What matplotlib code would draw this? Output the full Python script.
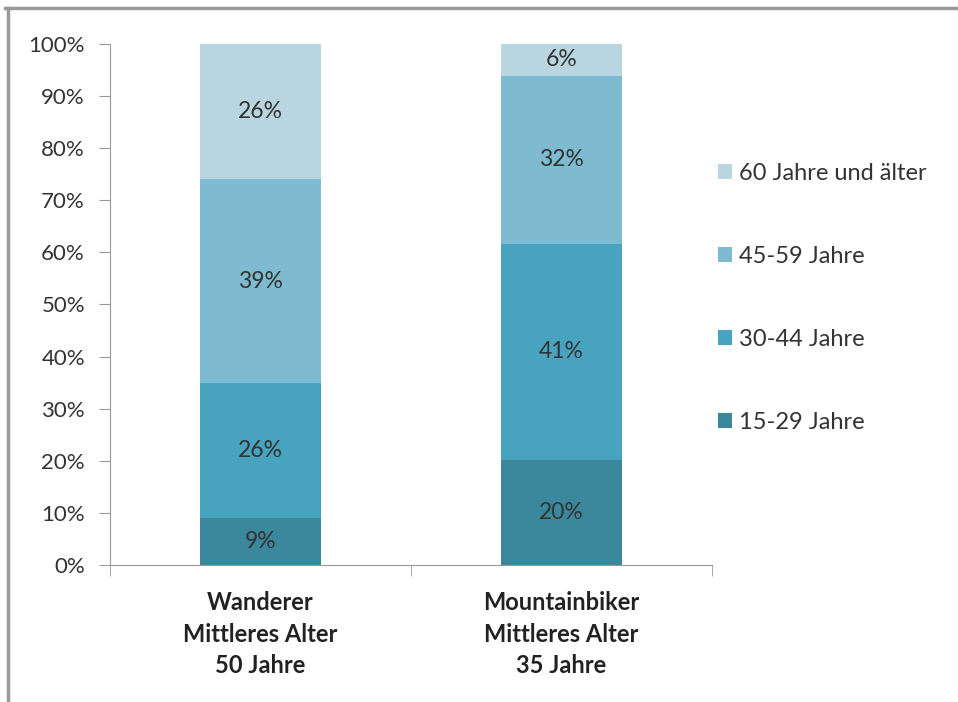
import numpy as np
import matplotlib.pyplot as plt
from matplotlib.lines import Line2D

plt.rcParams['font.family'] = ['Lato', 'DejaVu Sans']

groups = ["Wanderer\nMittleres Alter\n50 Jahre", "Mountainbiker\nMittleres Alter\n35 Jahre"]
series = ["15-29 Jahre", "30-44 Jahre", "45-59 Jahre", "60 Jahre und älter"]
wanderer = [9, 26, 39, 26]
mountainbiker = [20, 41, 32, 6]
colors = ['#3B879B', '#47A3BE', '#7EBAD0', '#B8D5E0']

raw = np.array([wanderer, mountainbiker], dtype=float)
# 100% stacked: normalise each column
share = raw / raw.sum(axis=1, keepdims=True) * 100

fig = plt.figure(figsize=(9.58, 7.02), dpi=100)
ax = fig.add_axes([0.1148, 0.1952, 0.6282, 0.7421])

x = np.arange(len(groups))
bottom = np.zeros(len(groups))
for i, name in enumerate(series):
    ax.bar(x, share[:, i], 0.4, bottom=bottom, color=colors[i], label=name)
    for j in range(len(groups)):
        ax.text(x[j], bottom[j] + share[j, i] / 2, "%d%%" % raw[j, i],
                ha='center', va='center', fontsize=16.5, color='#333333')
    bottom += share[:, i]

ax.set_xlim(-0.5, 1.5)
ax.set_ylim(0, 100)
ax.set_yticks(np.arange(0, 101, 10))
ax.set_yticklabels(["%d%%" % v for v in range(0, 101, 10)], fontsize=16, color='#333333')
ax.set_xticks(x)
ax.set_xticklabels(groups, fontsize=17, fontweight='bold', color='#222222', linespacing=1.45)
ax.tick_params(axis='x', length=0, pad=19)
ax.set_xticks([-0.5, 0.5, 1.5], minor=True)
ax.tick_params(axis='x', which='minor', length=8, color='#999999')
ax.tick_params(axis='y', length=8, color='#999999', pad=10)

for s in ['top', 'right']:
    ax.spines[s].set_visible(False)
for s in ['left', 'bottom']:
    ax.spines[s].set_color('#999999')

h, l = ax.get_legend_handles_labels()
ax.legend(h[::-1], l[::-1], loc='upper left', bbox_to_anchor=(0.975, 0.812),
          frameon=False, fontsize=17, labelspacing=2.62, handlelength=0.6,
          handleheight=0.6, handletextpad=0.3, labelcolor='#333333')

# outer chart border (top and left edges visible)
fig.add_artist(Line2D([0.005, 1.0], [0.988, 0.988], color='#999999', lw=2.5, transform=fig.transFigure))
fig.add_artist(Line2D([0.0085, 0.0085], [0.0, 0.988], color='#999999', lw=2.5, transform=fig.transFigure))

fig.savefig("out.png", dpi=100)
